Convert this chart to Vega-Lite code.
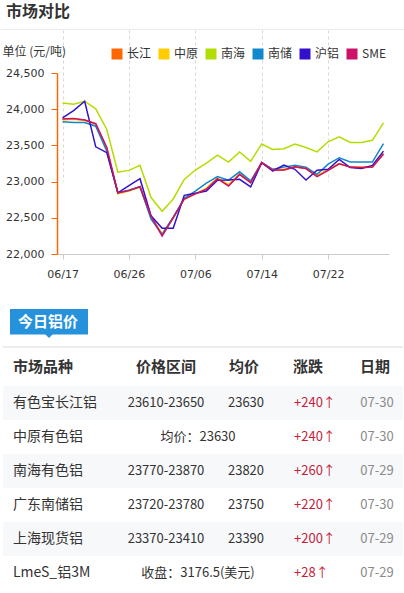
{
  "$schema": "https://vega.github.io/schema/vega-lite/v6.json",
  "padding": 0,
  "background": "white",
  "spacing": 0,
  "bounds": "flush",
  "resolve": {"scale": {"color": "shared"}},
  "config": {"view": {"stroke": null}},
  "datasets": {
    "prices": [
      {"d": "06/17", "长江": 23860, "中原": 23850, "南海": 24085, "南储": 23826, "沪铝": 23880, "SME": 23865},
      {"d": "06/18", "长江": 23865, "中原": 23860, "南海": 24070, "南储": 23815, "沪铝": 23980, "SME": 23870},
      {"d": "06/19", "长江": 23850, "中原": 23845, "南海": 24110, "南储": 23815, "沪铝": 24110, "SME": 23850},
      {"d": "06/20", "长江": 23795, "中原": 23790, "南海": 24005, "南储": 23765, "沪铝": 23480, "SME": 23800},
      {"d": "06/21", "长江": 23460, "中原": 23450, "南海": 23720, "南储": 23420, "沪铝": 23400, "SME": 23470},
      {"d": "06/24", "长江": 22840, "中原": 22830, "南海": 23130, "南储": 22845, "沪铝": 22845, "SME": 22845},
      {"d": "06/26", "长江": 22880, "中原": 22870, "南海": 23155, "南储": 22880, "沪铝": 22945, "SME": 22875},
      {"d": "06/27", "长江": 22930, "中原": 22920, "南海": 23225, "南储": 22930, "沪铝": 23040, "SME": 22930},
      {"d": "06/28", "长江": 22520, "中原": 22510, "南海": 22780, "南储": 22480, "沪铝": 22527, "SME": 22520},
      {"d": "07/01", "长江": 22270, "中原": 22280, "南海": 22590, "南储": 22270, "沪铝": 22355, "SME": 22250},
      {"d": "07/02", "长江": 22500, "中原": 22500, "南海": 22760, "南储": 22510, "沪铝": 22355, "SME": 22500},
      {"d": "07/03", "长江": 22760, "中原": 22760, "南海": 23030, "南储": 22770, "沪铝": 22810, "SME": 22760},
      {"d": "07/06", "长江": 22830, "中原": 22830, "南海": 23160, "南储": 22870, "沪铝": 22840, "SME": 22830},
      {"d": "07/07", "长江": 22900, "中原": 22910, "南海": 23255, "南储": 22980, "沪铝": 22870, "SME": 22895},
      {"d": "07/08", "长江": 23040, "中原": 23050, "南海": 23365, "南储": 23070, "沪铝": 23020, "SME": 23040},
      {"d": "07/09", "长江": 22950, "中原": 22960, "南海": 23270, "南储": 23020, "沪铝": 23022, "SME": 22940},
      {"d": "07/10", "长江": 23100, "中原": 23110, "南海": 23410, "南储": 23135, "沪铝": 23032, "SME": 23100},
      {"d": "07/11", "长江": 22990, "中原": 23000, "南海": 23280, "南储": 23010, "沪铝": 22926, "SME": 22985},
      {"d": "07/14", "长江": 23260, "中原": 23260, "南海": 23520, "南储": 23262, "沪铝": 23262, "SME": 23262},
      {"d": "07/15", "长江": 23160, "中原": 23170, "南海": 23445, "南储": 23170, "沪铝": 23146, "SME": 23160},
      {"d": "07/16", "长江": 23160, "中原": 23170, "南海": 23455, "南储": 23200, "沪铝": 23229, "SME": 23160},
      {"d": "07/17", "长江": 23200, "中原": 23210, "南海": 23520, "南储": 23225, "沪铝": 23170, "SME": 23205},
      {"d": "07/18", "长江": 23180, "中原": 23190, "南海": 23470, "南储": 23200, "沪铝": 23022, "SME": 23180},
      {"d": "07/19", "长江": 23080, "中原": 23090, "南海": 23410, "南储": 23100, "沪铝": 23156, "SME": 23070},
      {"d": "07/22", "长江": 23160, "中原": 23160, "南海": 23550, "南储": 23240, "沪铝": 23170, "SME": 23155},
      {"d": "07/23", "长江": 23250, "中原": 23250, "南海": 23620, "南储": 23330, "沪铝": 23307, "SME": 23245},
      {"d": "07/24", "长江": 23200, "中原": 23200, "南海": 23540, "南储": 23270, "沪铝": 23193, "SME": 23200},
      {"d": "07/25", "长江": 23190, "中原": 23200, "南海": 23540, "南储": 23270, "沪铝": 23180, "SME": 23195},
      {"d": "07/26", "长江": 23200, "中原": 23200, "南海": 23570, "南储": 23270, "沪铝": 23224, "SME": 23200},
      {"d": "07/29", "长江": 23385, "中原": 23390, "南海": 23810, "南储": 23525, "沪铝": 23421, "SME": 23380}
    ],
    "table": [
      {"row": 0, "name": "市场品种", "range": "价格区间", "avg": "均价", "chg": "涨跌", "date": "日期"},
      {"row": 1, "name": "有色宝长江铝", "range": "23610-23650", "avg": "23630", "chg": "+240↑", "date": "07-30"},
      {"row": 2, "name": "中原有色铝", "span": "均价：23630", "chg": "+240↑", "date": "07-30"},
      {"row": 3, "name": "南海有色铝", "range": "23770-23870", "avg": "23820", "chg": "+260↑", "date": "07-29"},
      {"row": 4, "name": "广东南储铝", "range": "23720-23780", "avg": "23750", "chg": "+220↑", "date": "07-30"},
      {"row": 5, "name": "上海现货铝", "range": "23370-23410", "avg": "23390", "chg": "+200↑", "date": "07-29"},
      {"row": 6, "name": "LmeS_铝3M", "span": "收盘：3176.5(美元)", "chg": "+28↑", "date": "07-29"}
    ],
    "labels": [
      {"title": "市场对比", "tab": "今日铝价"}
    ]
  },
  "vconcat": [
    {
      "width": 404,
      "height": 254,
      "layer": [
        {
          "data": {"name": "labels"},
          "mark": {"type": "rect", "fill": "white"},
          "encoding": {"x": {"value": 0}, "x2": {"value": 404}, "y": {"value": 0}, "y2": {"value": 29}}
        },
        {
          "data": {"name": "labels"},
          "mark": {"type": "text", "align": "left", "baseline": "alphabetic", "font": "Noto Sans CJK SC", "fontSize": 16, "fontWeight": "bold", "color": "#333"},
          "encoding": {"x": {"value": 5}, "y": {"value": 17}, "text": {"field": "title"}}
        },
        {
          "data": {"name": "labels"},
          "mark": {"type": "rule", "color": "#ebebeb", "strokeWidth": 1},
          "encoding": {"x": {"value": 0}, "x2": {"value": 404}, "y": {"value": 29.5}}
        },
        {
          "data": {"name": "prices"},
          "transform": [{"fold": ["长江", "中原", "南海", "南储", "沪铝", "SME"], "as": ["s", "v"]}],
          "mark": {"type": "line", "strokeWidth": 1.5},
          "encoding": {
            "x": {
              "field": "d", "type": "ordinal",
              "scale": {"type": "point", "range": [56, 388], "padding": 0.5},
              "axis": {
                "values": ["06/17", "06/26", "07/06", "07/14", "07/22"],
                "title": null, "labelAngle": 0,
                "labelFont": "DejaVu Sans", "labelFontSize": 11, "labelColor": "#333",
                "labelPadding": 9, "tickSize": 5, "tickColor": "#ccc", "domainColor": "#ccc",
                "grid": true, "gridColor": "#d8d8d8", "gridDash": [3, 3]
              }
            },
            "y": {
              "field": "v", "type": "quantitative",
              "scale": {"domain": [22000, 24500], "range": [254, 73], "nice": false, "zero": false},
              "axis": {
                "offset": -56,
                "values": [22000, 22500, 23000, 23500, 24000, 24500],
                "format": ",.0f",
                "grid": false,
                "labelFont": "DejaVu Sans", "labelFontSize": 11, "labelColor": "#333",
                "labelPadding": 7, "tickSize": 6, "tickColor": "#FF6600",
                "domainColor": "#FF6600", "domainWidth": 1.5,
                "title": "单位 (元/吨)", "titleX": -55, "titleY": 51, "titleAngle": 0,
                "titleAlign": "left", "titleBaseline": "middle",
                "titleFont": "Noto Sans CJK SC", "titleFontSize": 12, "titleFontWeight": "normal", "titleColor": "#333"
              }
            },
            "color": {
              "field": "s", "type": "nominal",
              "scale": {"domain": ["长江", "中原", "南海", "南储", "沪铝", "SME"], "range": ["#FF6600", "#FFCC00", "#B3DD00", "#1188CC", "#3311CC", "#CC1166"]},
              "legend": {
                "orient": "none", "legendX": 110, "legendY": 48, "direction": "horizontal",
                "title": null, "padding": 0,
                "symbolType": "square", "symbolSize": 121, "symbolStrokeWidth": 0,
                "labelFont": "Noto Sans CJK SC", "labelFontSize": 12, "labelColor": "#333",
                "labelOffset": 4, "columnPadding": 6,
                "encode": {"symbols": {"update": {"fill": {"scale": "color", "field": "value"}, "stroke": {"value": "transparent"}}}}
              }
            }
          }
        }
      ]
    },
    {
      "width": 404,
      "height": 339,
      "layer": [
        {
          "data": {"name": "labels"},
          "mark": {"type": "rect", "fill": "#2692DC"},
          "encoding": {"x": {"value": 9}, "x2": {"value": 87}, "y": {"value": 55}, "y2": {"value": 80.5}}
        },
        {
          "data": {"name": "labels"},
          "mark": {"type": "point", "shape": "M -1 0 L 1 0 L 0 1 Z", "filled": true, "size": 64, "color": "#2692DC", "opacity": 1},
          "encoding": {"x": {"value": 48}, "y": {"value": 80}}
        },
        {
          "data": {"name": "labels"},
          "mark": {"type": "text", "align": "center", "baseline": "middle", "font": "Noto Sans CJK SC", "fontSize": 15, "fontWeight": "bold", "color": "white"},
          "encoding": {"x": {"value": 47}, "y": {"value": 68}, "text": {"field": "tab"}}
        },
        {
          "data": {"name": "labels"},
          "mark": {"type": "rule", "color": "#e6e6e6", "strokeWidth": 1.5},
          "encoding": {"x": {"value": 2}, "x2": {"value": 402}, "y": {"value": 93}}
        },
        {
          "data": {"name": "table"},
          "transform": [{"filter": "datum.row % 2 == 1"}],
          "mark": {"type": "rect", "fill": "#F7F8FA"},
          "encoding": {
            "x": {"value": 2}, "x2": {"value": 402},
            "y": {"field": "row", "type": "ordinal", "scale": {"domain": [0, 1, 2, 3, 4, 5, 6], "range": [98, 336], "paddingInner": 0, "paddingOuter": 0}, "axis": null}
          }
        },
        {
          "data": {"name": "table"},
          "transform": [{"filter": "datum.row == 0"}],
          "layer": [
            {"mark": {"type": "text", "align": "left", "baseline": "middle", "font": "Noto Sans CJK SC", "fontSize": 15, "fontWeight": "bold", "color": "#333", "dy": -2},
             "encoding": {"x": {"value": 12}, "y": {"field": "row", "type": "ordinal", "axis": null}, "text": {"field": "name"}}},
            {"mark": {"type": "text", "align": "center", "baseline": "middle", "font": "Noto Sans CJK SC", "fontSize": 15, "fontWeight": "bold", "color": "#333", "dy": -2},
             "encoding": {"x": {"value": 165}, "y": {"field": "row", "type": "ordinal", "axis": null}, "text": {"field": "range"}}},
            {"mark": {"type": "text", "align": "center", "baseline": "middle", "font": "Noto Sans CJK SC", "fontSize": 15, "fontWeight": "bold", "color": "#333", "dy": -2},
             "encoding": {"x": {"value": 243}, "y": {"field": "row", "type": "ordinal", "axis": null}, "text": {"field": "avg"}}},
            {"mark": {"type": "text", "align": "center", "baseline": "middle", "font": "Noto Sans CJK SC", "fontSize": 15, "fontWeight": "bold", "color": "#333", "dy": -2},
             "encoding": {"x": {"value": 307}, "y": {"field": "row", "type": "ordinal", "axis": null}, "text": {"field": "chg"}}},
            {"mark": {"type": "text", "align": "center", "baseline": "middle", "font": "Noto Sans CJK SC", "fontSize": 15, "fontWeight": "bold", "color": "#333", "dy": -2},
             "encoding": {"x": {"value": 374}, "y": {"field": "row", "type": "ordinal", "axis": null}, "text": {"field": "date"}}}
          ]
        },
        {
          "data": {"name": "table"},
          "transform": [{"filter": "datum.row > 0"}],
          "layer": [
            {"mark": {"type": "text", "align": "left", "baseline": "middle", "font": "Noto Sans CJK SC", "fontSize": 14, "color": "#333"},
             "encoding": {"x": {"value": 12}, "y": {"field": "row", "type": "ordinal", "axis": null}, "text": {"field": "name"}}},
            {"transform": [{"filter": "isValid(datum.range)"}],
             "mark": {"type": "text", "align": "center", "baseline": "middle", "font": "Noto Sans CJK SC", "fontSize": 13, "color": "#333"},
             "encoding": {"x": {"value": 165}, "y": {"field": "row", "type": "ordinal", "axis": null}, "text": {"field": "range"}}},
            {"transform": [{"filter": "isValid(datum.avg)"}],
             "mark": {"type": "text", "align": "center", "baseline": "middle", "font": "Noto Sans CJK SC", "fontSize": 13, "color": "#333"},
             "encoding": {"x": {"value": 245}, "y": {"field": "row", "type": "ordinal", "axis": null}, "text": {"field": "avg"}}},
            {"transform": [{"filter": "isValid(datum.span)"}],
             "mark": {"type": "text", "align": "center", "baseline": "middle", "font": "Noto Sans CJK SC", "fontSize": 13, "color": "#333"},
             "encoding": {"x": {"value": 197}, "y": {"field": "row", "type": "ordinal", "axis": null}, "text": {"field": "span"}}},
            {"mark": {"type": "text", "align": "left", "baseline": "middle", "font": "Noto Sans CJK SC", "fontSize": 13, "color": "#C41E3A"},
             "encoding": {"x": {"value": 293}, "y": {"field": "row", "type": "ordinal", "axis": null}, "text": {"field": "chg"}}},
            {"mark": {"type": "text", "align": "center", "baseline": "middle", "font": "Noto Sans CJK SC", "fontSize": 13, "color": "#8a8a8a"},
             "encoding": {"x": {"value": 376}, "y": {"field": "row", "type": "ordinal", "axis": null}, "text": {"field": "date"}}}
          ]
        }
      ]
    }
  ]
}
